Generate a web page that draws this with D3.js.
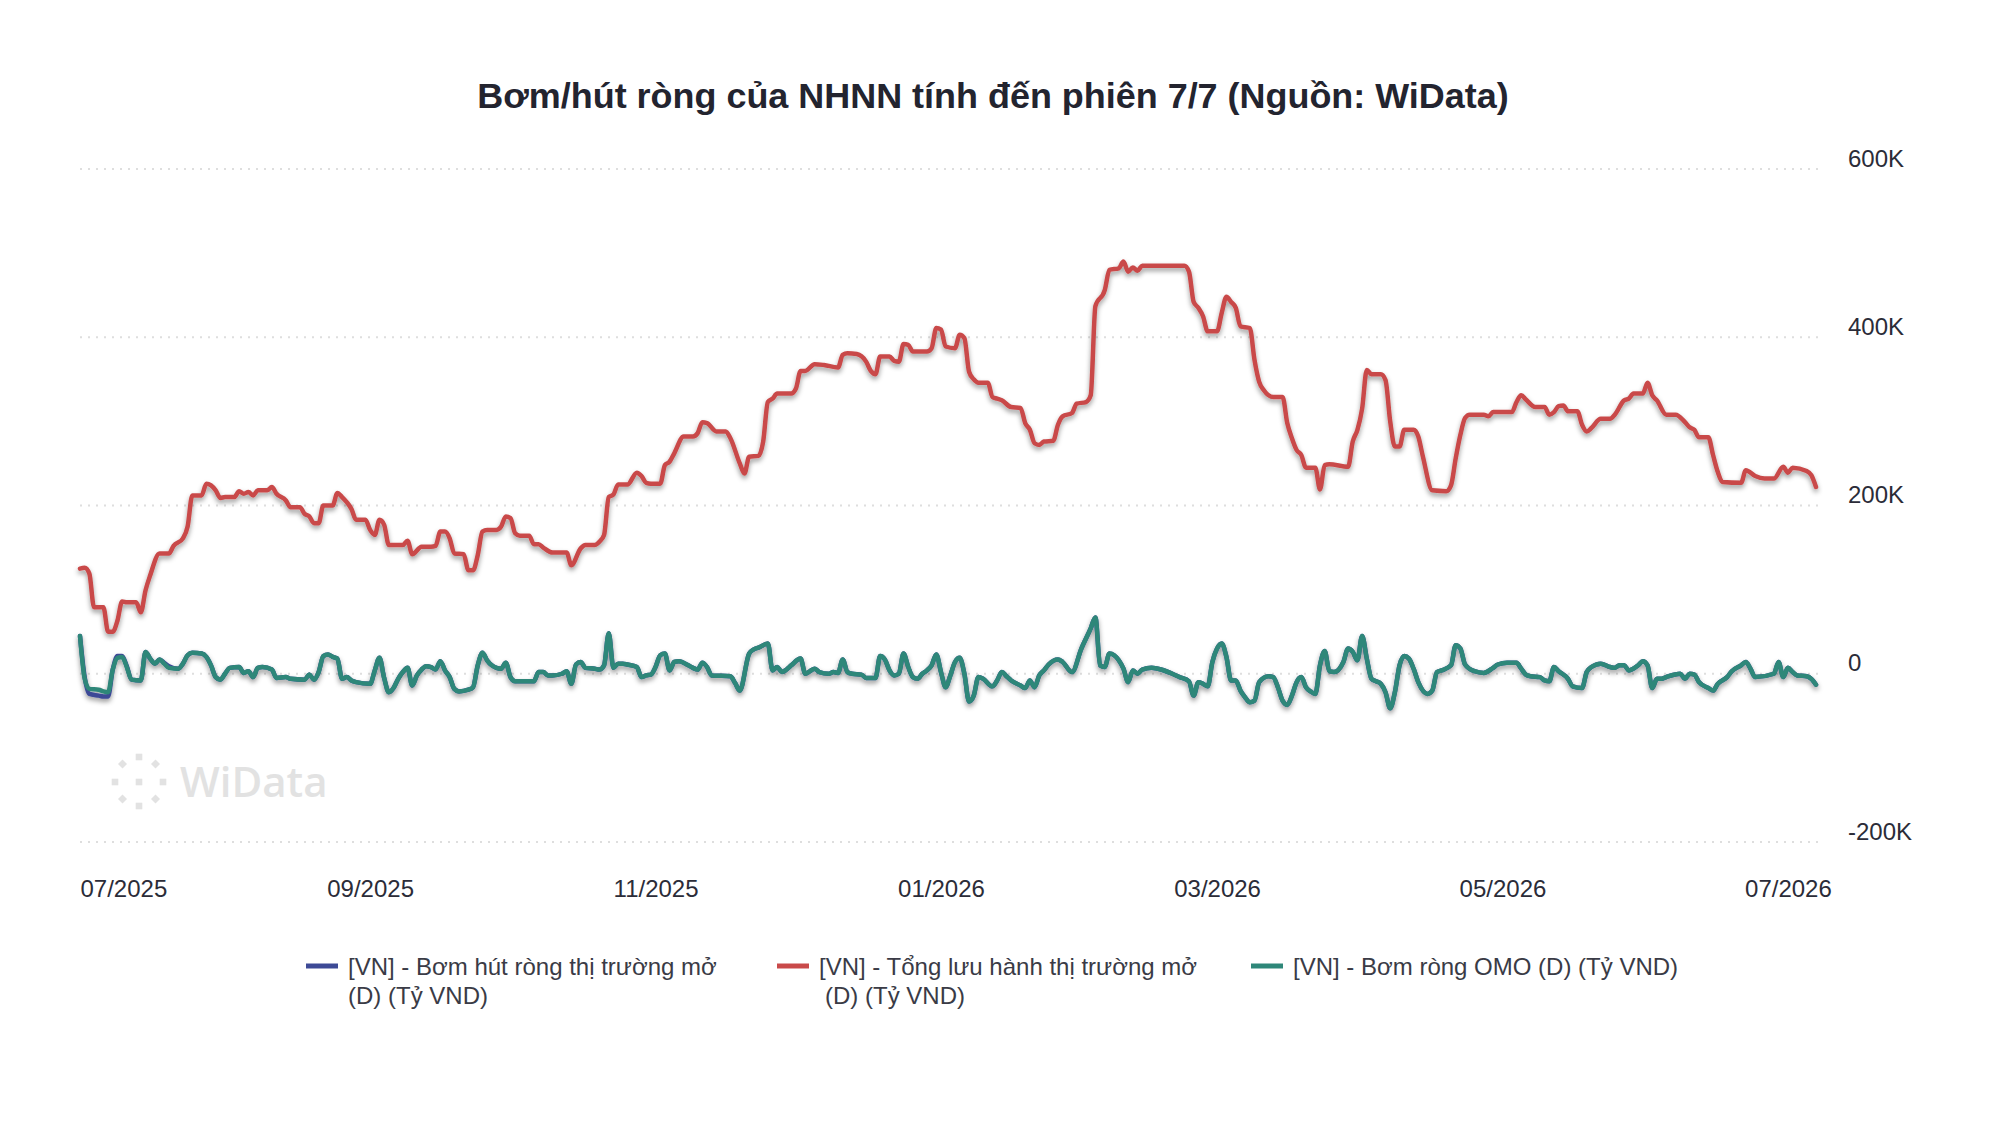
<!DOCTYPE html>
<html><head><meta charset="utf-8">
<script src="https://cdn.jsdelivr.net/npm/d3@7"></script>
<style>
html,body{margin:0;padding:0;background:#fff;}
svg{display:block;font-family:"Liberation Sans",Arial,Helvetica,sans-serif;}
</style></head><body>
<svg id="chart" width="2000" height="1144"></svg>
<script>
// Values are in thousand "Tỷ VND" (K)
const titleText = "Bơm/hút ròng của NHNN tính đến phiên 7/7 (Nguồn: WiData)";
const seriesNames = [
  ["[VN] - Bơm hút ròng thị trường mở", "(D) (Tỷ VND)"],
  ["[VN] - Tổng lưu hành thị trường mở", "(D) (Tỷ VND)"],
  ["[VN] - Bơm ròng OMO (D) (Tỷ VND)"]
];
const seriesColors = ["#3d4a96", "#c94a4a", "#2e8779"];

const yTickValues = [-200, 0, 200, 400, 600];
const yTickLabels = ["-200K", "0", "200K", "400K", "600K"];
const xTickDates = ["2025-07-01","2025-09-01","2025-11-01","2026-01-01","2026-03-01","2026-05-01","2026-07-01"];
const xTickLabels = ["07/2025","09/2025","11/2025","01/2026","03/2026","05/2026","07/2026"];
const xDomain = ["2025-07-01","2026-07-07"];

// Red: Tổng lưu hành thị trường mở
const redDates = [
"2025-07-01","2025-07-02","2025-07-03","2025-07-04","2025-07-06","2025-07-07","2025-07-08","2025-07-09","2025-07-10","2025-07-11","2025-07-13","2025-07-14","2025-07-15","2025-07-16","2025-07-18","2025-07-20","2025-07-21","2025-07-23","2025-07-24","2025-07-25","2025-07-27","2025-07-28","2025-07-29","2025-07-30","2025-07-31",
"2025-08-01","2025-08-03","2025-08-04","2025-08-05","2025-08-06","2025-08-07","2025-08-08","2025-08-10","2025-08-11","2025-08-12","2025-08-14","2025-08-15","2025-08-17","2025-08-18","2025-08-19","2025-08-20","2025-08-21","2025-08-22","2025-08-24","2025-08-25","2025-08-26","2025-08-27","2025-08-28","2025-08-29","2025-08-31",
"2025-09-01","2025-09-02","2025-09-03","2025-09-04","2025-09-05","2025-09-08","2025-09-09","2025-09-10","2025-09-12","2025-09-14","2025-09-15","2025-09-16","2025-09-17","2025-09-18","2025-09-19","2025-09-21","2025-09-22","2025-09-23","2025-09-24","2025-09-25","2025-09-26","2025-09-28","2025-09-29","2025-09-30",
"2025-10-01","2025-10-02","2025-10-03","2025-10-05","2025-10-06","2025-10-07","2025-10-08","2025-10-10","2025-10-13","2025-10-14","2025-10-16","2025-10-17","2025-10-19","2025-10-20","2025-10-21","2025-10-22","2025-10-23","2025-10-24","2025-10-26","2025-10-28","2025-10-29","2025-10-30","2025-10-31",
"2025-11-02","2025-11-03","2025-11-04","2025-11-05","2025-11-07","2025-11-09","2025-11-10","2025-11-11","2025-11-12","2025-11-14","2025-11-16","2025-11-17","2025-11-19","2025-11-20","2025-11-21","2025-11-23","2025-11-24","2025-11-25","2025-11-26","2025-11-27","2025-11-30",
"2025-12-01","2025-12-02","2025-12-03","2025-12-05","2025-12-07","2025-12-10","2025-12-11","2025-12-12","2025-12-14","2025-12-16","2025-12-17","2025-12-18","2025-12-19","2025-12-21","2025-12-22","2025-12-23","2025-12-24","2025-12-25","2025-12-26","2025-12-29","2025-12-30","2025-12-31",
"2026-01-01","2026-01-02","2026-01-04","2026-01-05","2026-01-06","2026-01-07","2026-01-08","2026-01-09","2026-01-11","2026-01-12","2026-01-13","2026-01-14","2026-01-16","2026-01-18","2026-01-19","2026-01-20","2026-01-21","2026-01-22","2026-01-23","2026-01-25","2026-01-26","2026-01-27","2026-01-29","2026-01-30",
"2026-02-01","2026-02-02","2026-02-03","2026-02-05","2026-02-06","2026-02-08","2026-02-09","2026-02-10","2026-02-11","2026-02-12","2026-02-13","2026-02-22","2026-02-23","2026-02-24","2026-02-25","2026-02-26","2026-02-27",
"2026-03-01","2026-03-02","2026-03-03","2026-03-04","2026-03-05","2026-03-06","2026-03-08","2026-03-09","2026-03-10","2026-03-11","2026-03-13","2026-03-15","2026-03-16","2026-03-17","2026-03-18","2026-03-19","2026-03-20","2026-03-22","2026-03-23","2026-03-24","2026-03-25","2026-03-29","2026-03-30","2026-03-31",
"2026-04-01","2026-04-02","2026-04-03","2026-04-05","2026-04-06","2026-04-07","2026-04-08","2026-04-09","2026-04-10","2026-04-12","2026-04-13","2026-04-14","2026-04-16","2026-04-19","2026-04-20","2026-04-21","2026-04-22","2026-04-23","2026-04-24","2026-04-27","2026-04-28","2026-04-29",
"2026-05-03","2026-05-04","2026-05-05","2026-05-06","2026-05-08","2026-05-10","2026-05-11","2026-05-12","2026-05-13","2026-05-14","2026-05-15","2026-05-17","2026-05-18","2026-05-19","2026-05-20","2026-05-22","2026-05-24","2026-05-25","2026-05-27","2026-05-28","2026-05-29","2026-05-31",
"2026-06-01","2026-06-02","2026-06-03","2026-06-05","2026-06-07","2026-06-09","2026-06-10","2026-06-11","2026-06-12","2026-06-14","2026-06-15","2026-06-16","2026-06-17","2026-06-21","2026-06-22","2026-06-24","2026-06-26","2026-06-28","2026-06-30",
"2026-07-01","2026-07-02","2026-07-05","2026-07-06","2026-07-07"
];
const redValues = [
125,126,119,79,79,50,50,63,86,85,85,73,99,117,143,143,152,161,175,212,212,226,224,218,209,
210,210,217,214,216,212,218,218,222,214,206,198,198,190,187,179,179,200,200,215,210,204,196,183,183,
171,165,183,177,153,153,158,142,151,151,152,169,169,161,143,142,123,123,141,169,171,171,175,187,
185,167,164,164,154,154,150,144,144,129,149,153,153,157,165,210,213,225,225,239,235,227,226,
226,248,252,262,282,282,286,299,298,288,288,280,250,238,258,259,276,323,327,333,333,
339,360,360,368,367,364,379,381,380,371,360,356,377,377,372,371,392,391,383,383,387,411,
409,389,387,403,399,359,350,346,346,329,327,325,317,316,298,290,274,272,276,277,296,306,310,321,
323,331,437,456,480,482,490,478,483,479,485,485,478,442,435,425,407,
407,429,448,442,435,413,411,373,347,337,329,329,298,280,266,260,245,245,219,248,249,246,276,290,
315,361,356,356,349,300,270,270,290,290,282,258,218,217,224,256,284,304,308,308,306,311,
311,323,331,326,317,317,308,311,318,319,312,312,296,288,292,303,303,308,325,327,333,333,
346,331,325,308,308,299,293,290,281,281,260,240,228,227,242,235,232,232,246,
239,245,241,236,222
];

// Teal & blue share dates
const omoDates = [
"2025-07-01","2025-07-02","2025-07-03","2025-07-05","2025-07-06","2025-07-07","2025-07-08","2025-07-09","2025-07-10","2025-07-11","2025-07-12","2025-07-14","2025-07-15","2025-07-16","2025-07-17","2025-07-18","2025-07-19","2025-07-20","2025-07-22","2025-07-23","2025-07-24","2025-07-25","2025-07-27","2025-07-28","2025-07-29","2025-07-30","2025-07-31",
"2025-08-01","2025-08-02","2025-08-04","2025-08-05","2025-08-06","2025-08-07","2025-08-08","2025-08-09","2025-08-11","2025-08-12","2025-08-14","2025-08-15","2025-08-18","2025-08-19","2025-08-20","2025-08-21","2025-08-22","2025-08-23","2025-08-24","2025-08-25","2025-08-26","2025-08-27","2025-08-28","2025-08-29",
"2025-09-01","2025-09-02","2025-09-03","2025-09-04","2025-09-05","2025-09-06","2025-09-07","2025-09-08","2025-09-09","2025-09-10","2025-09-11","2025-09-12","2025-09-13","2025-09-14","2025-09-15","2025-09-16","2025-09-17","2025-09-18","2025-09-19","2025-09-20","2025-09-22","2025-09-23","2025-09-24","2025-09-25","2025-09-26","2025-09-27","2025-09-28","2025-09-29","2025-09-30",
"2025-10-01","2025-10-02","2025-10-06","2025-10-07","2025-10-08","2025-10-09","2025-10-10","2025-10-12","2025-10-13","2025-10-14","2025-10-15","2025-10-16","2025-10-17","2025-10-19","2025-10-20","2025-10-21","2025-10-22","2025-10-23","2025-10-24","2025-10-25","2025-10-26","2025-10-28","2025-10-29","2025-10-30","2025-10-31",
"2025-11-01","2025-11-02","2025-11-03","2025-11-04","2025-11-05","2025-11-06","2025-11-08","2025-11-09","2025-11-10","2025-11-11","2025-11-12","2025-11-13","2025-11-17","2025-11-18","2025-11-19","2025-11-21","2025-11-22","2025-11-23","2025-11-25","2025-11-26","2025-11-27","2025-11-28","2025-11-29","2025-11-30",
"2025-12-02","2025-12-03","2025-12-04","2025-12-05","2025-12-06","2025-12-08","2025-12-09","2025-12-10","2025-12-11","2025-12-12","2025-12-13","2025-12-15","2025-12-16","2025-12-18","2025-12-19","2025-12-20","2025-12-21","2025-12-22","2025-12-23","2025-12-24","2025-12-25","2025-12-26","2025-12-27","2025-12-28","2025-12-29","2025-12-30","2025-12-31",
"2026-01-01","2026-01-02","2026-01-03","2026-01-04","2026-01-05","2026-01-06","2026-01-07","2026-01-08","2026-01-09","2026-01-10","2026-01-12","2026-01-13","2026-01-14","2026-01-15","2026-01-16","2026-01-18","2026-01-19","2026-01-20","2026-01-21","2026-01-22","2026-01-23","2026-01-24","2026-01-26","2026-01-27","2026-01-29","2026-01-31",
"2026-02-02","2026-02-03","2026-02-04","2026-02-05","2026-02-06","2026-02-07","2026-02-08","2026-02-09","2026-02-10","2026-02-11","2026-02-12","2026-02-13","2026-02-15","2026-02-17","2026-02-19","2026-02-21","2026-02-23","2026-02-24","2026-02-25","2026-02-26","2026-02-27","2026-02-28",
"2026-03-01","2026-03-02","2026-03-03","2026-03-04","2026-03-05","2026-03-06","2026-03-07","2026-03-08","2026-03-09","2026-03-10","2026-03-12","2026-03-13","2026-03-14","2026-03-15","2026-03-16","2026-03-17","2026-03-18","2026-03-19","2026-03-20","2026-03-21","2026-03-22","2026-03-23","2026-03-24","2026-03-25","2026-03-26","2026-03-28","2026-03-29","2026-03-30","2026-03-31",
"2026-04-01","2026-04-02","2026-04-03","2026-04-04","2026-04-05","2026-04-06","2026-04-07","2026-04-08","2026-04-09","2026-04-10","2026-04-11","2026-04-12","2026-04-13","2026-04-15","2026-04-16","2026-04-17","2026-04-18","2026-04-20","2026-04-21","2026-04-22","2026-04-23","2026-04-25","2026-04-27","2026-04-29","2026-04-30",
"2026-05-02","2026-05-04","2026-05-05","2026-05-06","2026-05-07","2026-05-09","2026-05-10","2026-05-11","2026-05-12","2026-05-13","2026-05-15","2026-05-16","2026-05-18","2026-05-19","2026-05-20","2026-05-22","2026-05-24","2026-05-25","2026-05-26","2026-05-27","2026-05-28","2026-05-30","2026-05-31",
"2026-06-01","2026-06-02","2026-06-03","2026-06-04","2026-06-05","2026-06-08","2026-06-09","2026-06-10","2026-06-11","2026-06-12","2026-06-14","2026-06-15","2026-06-16","2026-06-18","2026-06-19","2026-06-21","2026-06-22","2026-06-23","2026-06-24","2026-06-28","2026-06-29","2026-06-30",
"2026-07-01","2026-07-02","2026-07-03","2026-07-05","2026-07-06","2026-07-07"
];
// Teal: Bơm ròng OMO
const omoValues = [
45,-6,-18,-19,-21,-22,5,19,20,8,-7,-8,26,18,12,17,12,7,6,12,22,25,24,20,10,-4,-7,
0,7,8,1,3,-4,7,8,5,-5,-4,-6,-7,-1,-7,2,21,23,20,18,-6,-4,-8,-10,
-12,4,19,-5,-22,-17,-6,2,7,-14,-2,5,9,8,5,15,4,-4,-18,-21,-19,-16,10,25,16,10,7,6,13,
-4,-9,-9,2,2,-2,-2,0,3,-12,11,14,7,6,5,10,48,7,12,12,11,8,-4,-2,-1,
8,22,24,4,14,15,10,7,5,13,8,-2,-3,-11,-20,24,29,31,36,4,8,2,5,10,
18,0,3,6,2,0,2,1,17,2,0,-1,-5,-5,21,17,4,-2,0,24,8,-4,-6,0,4,10,23,
2,-16,-2,14,19,0,-33,-26,-4,-6,-15,-8,2,-3,-8,-14,-17,-8,-16,-2,4,11,17,14,2,30,
54,67,10,8,24,22,16,6,-10,4,0,5,7,5,1,-4,-9,-26,-10,-12,-15,14,
30,36,20,-8,-8,-20,-28,-34,-32,-10,-3,-4,-16,-32,-37,-26,-10,-4,-16,-21,-24,10,27,3,2,14,30,26,16,
45,18,-6,-9,-12,-22,-41,-22,10,21,18,6,-10,-24,-20,2,4,10,34,30,11,3,1,7,11,
13,13,6,-1,-3,-4,-8,-9,8,3,-6,-15,-17,2,8,12,8,7,10,10,4,10,15,
10,-17,-6,-6,-4,0,-6,0,-1,-10,-17,-20,-12,-4,3,10,14,6,-4,0,14,-4,
7,2,-2,-3,-6,-13
];
// Blue: Bơm hút ròng thị trường mở
const netValues = [
45,-4,-24,-26,-27,-27,5,21,21,9,-7,-8,26,18,12,17,13,9,6,12,22,25,24,20,10,-4,-7,
0,7,8,1,3,-4,7,8,5,-5,-4,-6,-7,-1,-7,2,21,23,20,18,-6,-4,-8,-10,
-12,4,19,-5,-22,-17,-6,2,7,-14,-2,5,9,8,5,15,4,-4,-18,-21,-19,-16,10,25,16,10,7,6,13,
-4,-9,-9,2,2,-2,-2,0,3,-12,11,14,7,6,5,10,48,7,12,12,11,8,-4,-2,-1,
8,22,24,4,14,15,10,7,5,13,8,-2,-3,-11,-20,24,29,31,36,4,8,2,5,10,
18,0,3,6,2,0,2,1,17,2,0,-1,-5,-5,21,17,4,-2,0,24,8,-4,-6,0,4,10,23,
2,-16,-2,14,19,0,-33,-26,-4,-6,-15,-8,2,-3,-8,-14,-17,-8,-16,-2,4,11,17,14,2,30,
54,67,10,8,24,22,16,6,-10,4,0,5,7,5,1,-4,-9,-26,-10,-12,-15,14,
30,36,20,-8,-8,-20,-28,-34,-32,-10,-3,-4,-16,-32,-37,-26,-10,-4,-16,-21,-24,10,27,3,2,14,30,26,16,
45,18,-6,-9,-12,-22,-41,-22,10,21,18,6,-10,-24,-20,2,4,10,34,30,11,3,1,7,11,
13,13,6,-1,-3,-4,-8,-9,8,3,-6,-15,-17,2,8,12,8,7,10,10,4,10,15,
10,-17,-6,-6,-4,0,-6,0,-1,-10,-17,-20,-12,-4,3,10,14,6,-4,0,14,-4,
7,2,-2,-3,-6,-13
];

// ---------- drawing ----------
const parse = d3.utcParse("%Y-%m-%d");
const W = 2000, H = 1144;
const plot = {left: 80, right: 1816, top: 169, bottom: 842};
const svg = d3.select("#chart");

const x = d3.scaleUtc().domain(xDomain.map(parse)).range([plot.left, plot.right]);
const y = d3.scaleLinear().domain([-200, 600]).range([plot.bottom, plot.top]);

const defs = svg.append("defs");
const f = defs.append("filter").attr("id", "shadow")
  .attr("filterUnits", "userSpaceOnUse").attr("x", 0).attr("y", 0).attr("width", W).attr("height", H);
f.append("feDropShadow").attr("dx", 0).attr("dy", 3).attr("stdDeviation", 2.4)
  .attr("flood-color", "#000").attr("flood-opacity", 0.4);

// title
const title = svg.append("text").attr("x", 993).attr("y", 108).attr("text-anchor", "middle")
  .attr("font-weight", "bold").attr("font-size", 32).attr("fill", "#23242f").text(titleText);
const tlen = title.node().getComputedTextLength();
title.attr("font-size", 32 * 1032 / tlen);

// grid lines
svg.append("g").selectAll("line").data(yTickValues).join("line")
  .attr("x1", plot.left).attr("x2", 1818)
  .attr("y1", d => y(d)).attr("y2", d => y(d))
  .attr("stroke", "#dedede").attr("stroke-width", 2).attr("stroke-dasharray", "2,6");

// y axis (right)
const yAxis = d3.axisRight(y).tickValues(yTickValues)
  .tickFormat(d => yTickLabels[yTickValues.indexOf(d)]).tickSize(0).tickPadding(0);
const gy = svg.append("g").attr("transform", `translate(1848,0)`).call(yAxis);
gy.select(".domain").remove();
gy.selectAll("text").attr("x", 0).attr("dy", 0).attr("y", -3)
  .attr("font-size", 24).attr("fill", "#2b2c38").attr("font-family", '"Liberation Sans",Arial,sans-serif');

// x axis
const xTicks = xTickDates.map(parse);
const xAxis = d3.axisBottom(x).tickValues(xTicks)
  .tickFormat((d, i) => xTickLabels[i]).tickSize(0).tickPadding(0);
const gx = svg.append("g").call(xAxis);
gx.select(".domain").remove();
gx.selectAll("text").attr("y", 897).attr("dy", 0)
  .attr("font-size", 24).attr("fill", "#2b2c38").attr("font-family", '"Liberation Sans",Arial,sans-serif')
  .attr("text-anchor", (d, i) => i === 0 ? "start" : "middle");

// watermark
const wm = svg.append("g").attr("fill", "#e2e2e2");
const sq = [[139, 757], [139, 806], [115, 782], [163, 782], [139, 782]];
wm.selectAll("rect").data(sq).join("rect")
  .attr("x", d => d[0] - 3.3).attr("y", d => d[1] - 3.3).attr("width", 6.6).attr("height", 6.6);
const dm = [[122.5, 764], [155.5, 764], [122.5, 799], [155.5, 799]];
wm.selectAll("path").data(dm).join("path")
  .attr("d", d => `M${d[0]},${d[1]-4.5}L${d[0]+4.5},${d[1]}L${d[0]},${d[1]+4.5}L${d[0]-4.5},${d[1]}Z`);
wm.append("text").attr("x", 180).attr("y", 797).attr("font-size", 42).attr("font-weight", 600)
  .attr("font-family", '"Open Sans",sans-serif').text("WiData");

// lines
const line = d3.line().x(d => x(d.date)).y(d => y(d.value)).curve(d3.curveMonotoneX);
const blueData = omoDates.map((d, i) => ({date: parse(d), value: netValues[i]}));
const redData = redDates.map((d, i) => ({date: parse(d), value: redValues[i]}));
const tealData = omoDates.map((d, i) => ({date: parse(d), value: omoValues[i]}));
const lines = svg.append("g").attr("filter", "url(#shadow)");
[[blueData, 0], [redData, 1], [tealData, 2]].forEach(([data, k]) => {
  lines.append("path").datum(data).attr("d", line).attr("fill", "none")
    .attr("stroke", seriesColors[k]).attr("stroke-width", 4.5)
    .attr("stroke-linejoin", "round").attr("stroke-linecap", "round");
});

// legend
const legendX = [306, 777, 1251];
const lg = svg.append("g");
seriesNames.forEach((lines2, k) => {
  lg.append("line").attr("x1", legendX[k]).attr("x2", legendX[k] + 32)
    .attr("y1", 966).attr("y2", 966).attr("stroke", seriesColors[k]).attr("stroke-width", 5);
  lines2.forEach((t, j) => {
    lg.append("text").attr("x", legendX[k] + 42 + (k === 1 && j === 1 ? 6 : 0)).attr("y", 975 + j * 29)
      .attr("font-size", 24).attr("fill", "#3a3b46").text(t);
  });
});
</script></body></html>
